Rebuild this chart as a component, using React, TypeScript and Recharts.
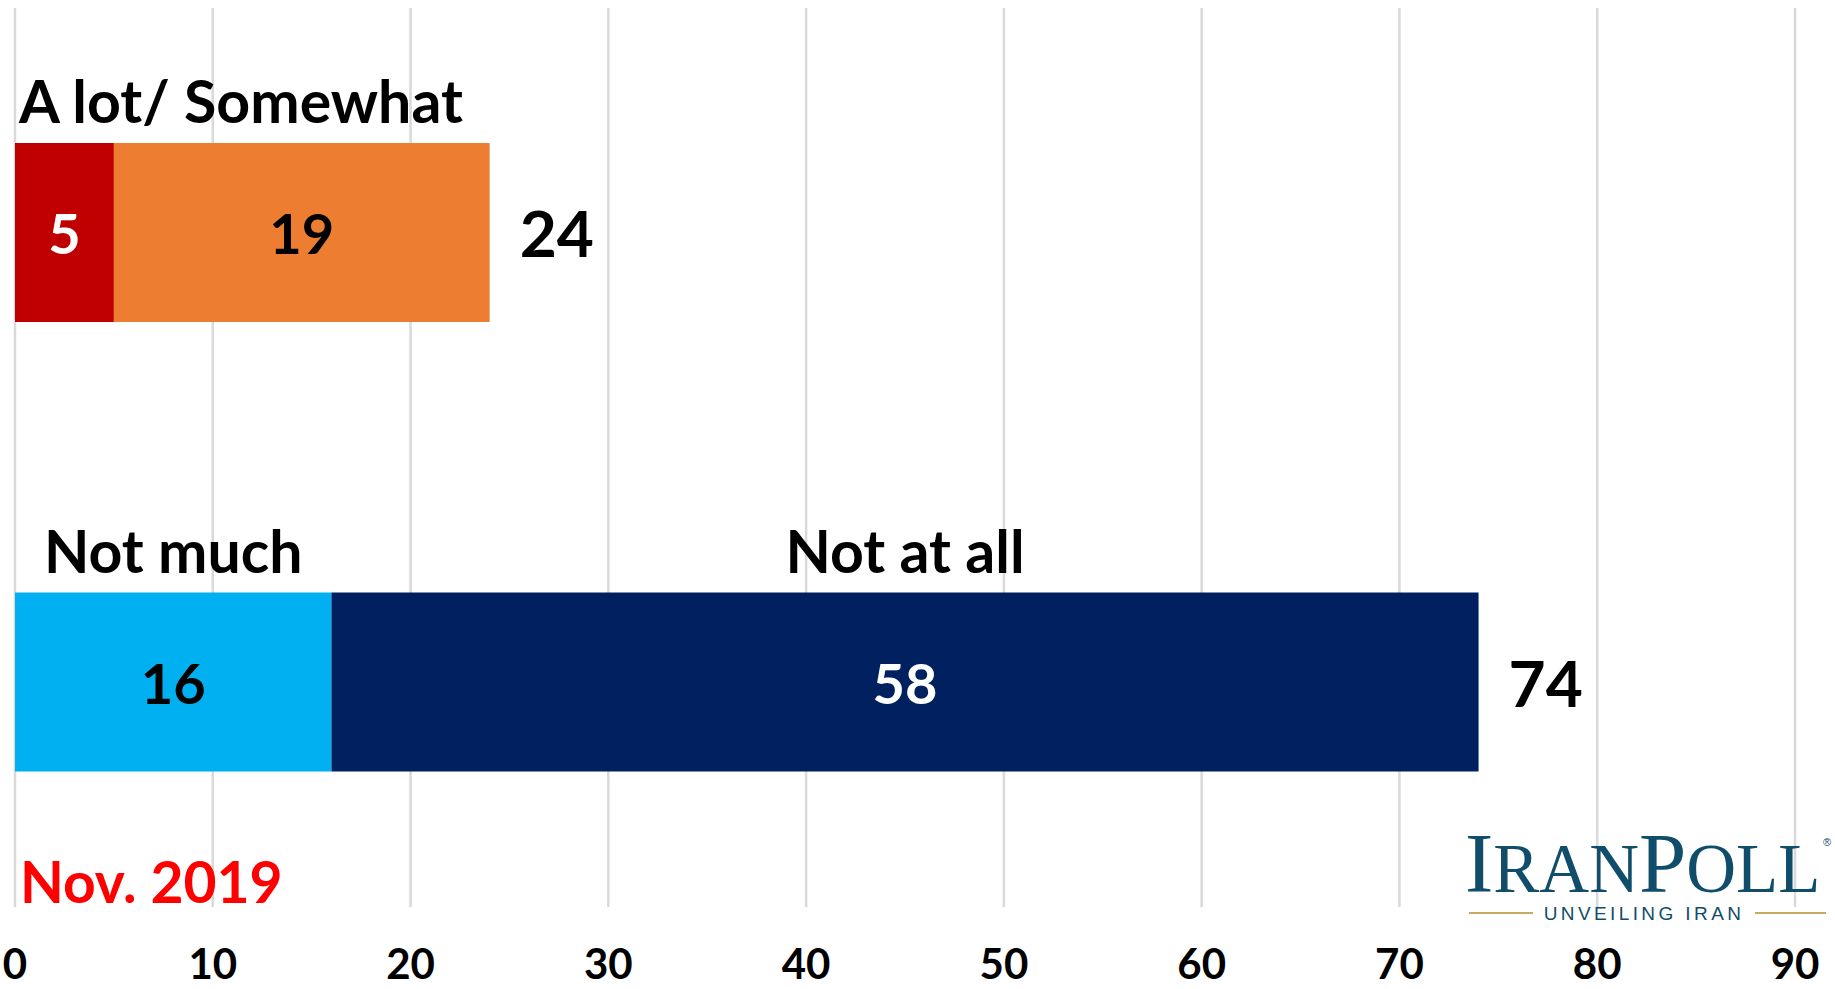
import React from 'react';
import { BarChart, Bar, XAxis, YAxis, CartesianGrid, Cell, LabelList } from 'recharts';

// rows of the chart, top to bottom
const rows = ['A lot/ Somewhat', 'Not much/ Not at all'];
const firstValues = [5, 16];
const secondValues = [19, 58];
const firstHeadings = ['A lot/ Somewhat', 'Not much'];
const secondHeadings = ['', 'Not at all'];
const firstColors = ['#c00000', '#00b0f0'];
const secondColors = ['#ed7d31', '#002060'];
const firstTextColors = ['#ffffff', '#000000'];
const secondTextColors = ['#000000', '#ffffff'];
const xTicks = [0, 10, 20, 30, 40, 50, 60, 70, 80, 90];

const data = rows.map((row, i) => ({
  row,
  first: firstValues[i],
  second: secondValues[i],
  total: firstValues[i] + secondValues[i],
}));

const FONT = 'Lato, "Open Sans", sans-serif';

const innerLabel = (colors: string[]) => (props: any) => {
  const { x, y, width, height, value, index } = props;
  return (
    <text
      x={x + width / 2}
      y={y + height / 2}
      textAnchor="middle"
      dominantBaseline="central"
      fill={colors[index]}
      fontFamily={FONT}
      fontWeight={700}
      fontSize={56}
    >
      {value}
    </text>
  );
};

const headingLabel = (headings: string[], leftAlignTop: boolean) => (props: any) => {
  const { x, y, width, index } = props;
  const text = headings[index];
  if (!text) return null;
  const start = leftAlignTop && index === 0;
  return (
    <text
      x={start ? x + 4 : x + width / 2}
      y={y - 20}
      textAnchor={start ? 'start' : 'middle'}
      fill="#000"
      fontFamily={FONT}
      fontWeight={700}
      fontSize={59}
    >
      {text}
    </text>
  );
};

const totalLabel = (props: any) => {
  const { x, y, width, height, index } = props;
  return (
    <text
      x={x + width + 30}
      y={y + height / 2}
      textAnchor="start"
      dominantBaseline="central"
      fill="#000"
      fontFamily={FONT}
      fontWeight={700}
      fontSize={64}
    >
      {data[index].total}
    </text>
  );
};

export default function App() {
  return (
    <div style={{ position: 'absolute', left: 0, top: 0, width: 1835, height: 989, background: '#fff' }}>
      <BarChart
        width={1835}
        height={989}
        data={data}
        layout="vertical"
        margin={{ top: 8, right: 40, bottom: 0, left: 15 }}
        barSize={179}
      >
        <CartesianGrid horizontal={false} stroke="#d9d9d9" strokeWidth={2.5} />
        <XAxis
          type="number"
          domain={[0, 90]}
          ticks={xTicks}
          axisLine={false}
          tickLine={false}
          tickSize={0}
          tickMargin={42}
          height={82}
          interval={0}
          tick={{ fill: '#000', fontFamily: FONT, fontWeight: 700, fontSize: 42 }}
        />
        <YAxis type="category" dataKey="row" hide />
        <Bar dataKey="first" stackId="a" isAnimationActive={false}>
          {data.map((_, i) => (
            <Cell key={i} fill={firstColors[i]} />
          ))}
          <LabelList dataKey="first" content={innerLabel(firstTextColors)} />
          <LabelList dataKey="first" content={headingLabel(firstHeadings, true)} />
        </Bar>
        <Bar dataKey="second" stackId="a" isAnimationActive={false}>
          {data.map((_, i) => (
            <Cell key={i} fill={secondColors[i]} />
          ))}
          <LabelList dataKey="second" content={innerLabel(secondTextColors)} />
          <LabelList dataKey="second" content={headingLabel(secondHeadings, false)} />
          <LabelList dataKey="total" content={totalLabel} />
        </Bar>
      </BarChart>

      <svg
        width={1835}
        height={989}
        style={{ position: 'absolute', left: 0, top: 0, pointerEvents: 'none' }}
      >
        <text x={20} y={903} fill="#ff0000" fontFamily={FONT} fontWeight={700} fontSize={57}>
          Nov. 2019
        </text>
        <text x={1465} y={892} fill="#0f4d6b" fontFamily='"Liberation Serif", serif'>
          <tspan fontSize={85}>I</tspan>
          <tspan fontSize={69}>RAN</tspan>
          <tspan fontSize={85}>P</tspan>
          <tspan fontSize={69}>OLL</tspan>
        </text>
        <text x={1823} y={846} fill="#0f4d6b" fontFamily='"Liberation Sans", sans-serif' fontSize={11}>
          ®
        </text>
        <line x1={1469} y1={913} x2={1533} y2={913} stroke="#c9a961" strokeWidth={2} />
        <line x1={1755} y1={913} x2={1826} y2={913} stroke="#c9a961" strokeWidth={2} />
        <text
          x={1644}
          y={920}
          textAnchor="middle"
          fill="#0f4d6b"
          fontFamily='"Liberation Sans", sans-serif'
          fontSize={19}
          letterSpacing={3.4}
        >
          UNVEILING IRAN
        </text>
      </svg>
    </div>
  );
}
